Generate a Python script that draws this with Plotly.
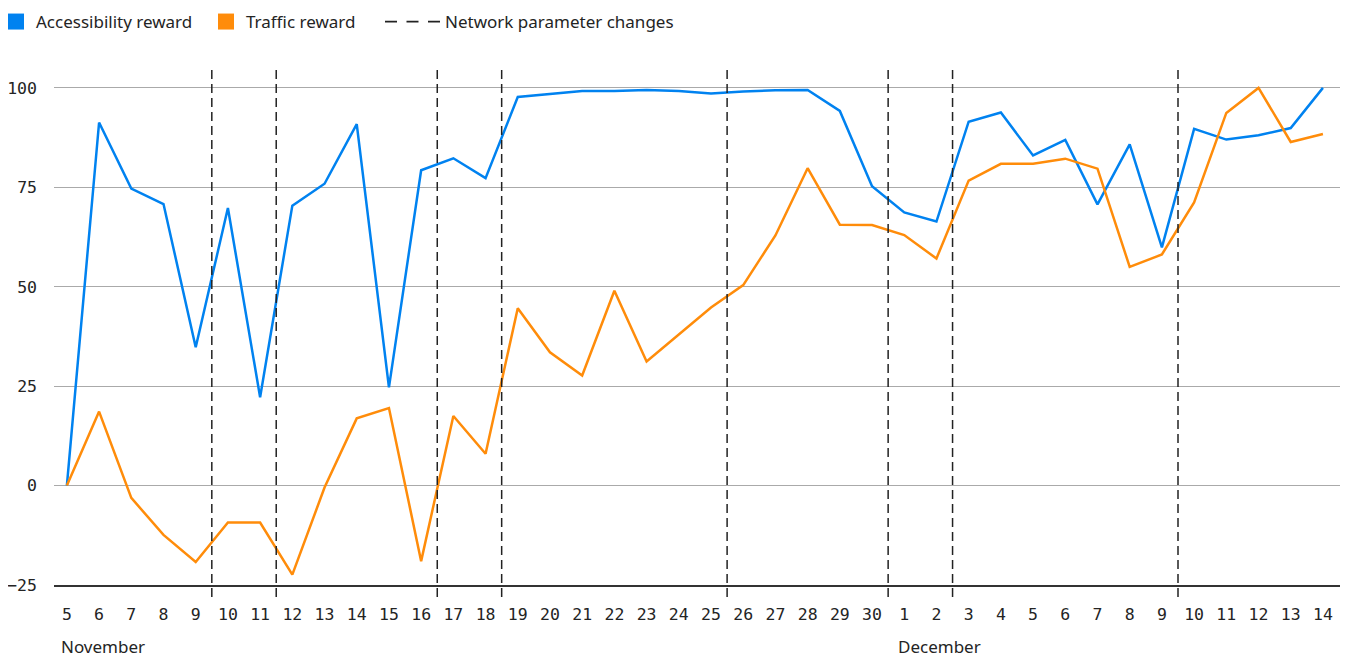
import plotly.graph_objects as go

nov_days = list(range(5, 31))
dec_days = list(range(1, 15))
tick_labels = [str(d) for d in nov_days + dec_days]
months = ["November", "December"]
month_start_index = [0, 26]

accessibility = [0, 91.3, 74.7, 70.8, 34.8, 69.8, 22.2, 70.4, 75.9, 90.9,
                 24.7, 79.3, 82.3, 77.3, 97.7, 98.4, 99.2, 99.2, 99.5, 99.2,
                 98.6, 99.1, 99.4, 99.5, 94.2, 75.3, 68.7, 66.4, 91.5, 93.8,
                 83.0, 86.9, 70.7, 85.8, 59.9, 89.7, 87.0, 88.1, 89.9, 100]
traffic = [0, 18.6, -3.1, -12.4, -19.2, -9.3, -9.3, -22.4, -0.5, 16.9,
           19.5, -19.0, 17.5, 8.0, 44.6, 33.5, 27.7, 49.0, 31.2, 38.0,
           44.8, 50.4, 62.9, 79.8, 65.6, 65.5, 63.0, 57.1, 76.7, 80.9,
           80.9, 82.2, 79.7, 55.0, 58.1, 71.2, 93.7, 100, 86.4, 88.4]
# parameter changes happen between these consecutive day indices
change_after_index = [4, 6, 11, 13, 20, 25, 27, 34]

BLUE = "#0082F0"
ORANGE = "#FF8C0A"
TXT = "#242424"
DASHC = "#222222"

# figure geometry (page has an 8px body margin)
W, H = 1344, 652
ML, MR, MT, MB = 46, 12, 62, 75
PW, PH = W - ML - MR, H - MT - MB


def px_x(screen_x):
    return (screen_x - 8 - ML) / PW


def px_y(screen_y):
    return 1 - (screen_y - 8 - MT) / PH


xs = list(range(len(tick_labels)))
fig = go.Figure()
fig.add_trace(go.Scatter(x=xs, y=accessibility, mode="lines",
                         line=dict(color=BLUE, width=2.5), showlegend=False))
fig.add_trace(go.Scatter(x=xs, y=traffic, mode="lines",
                         line=dict(color=ORANGE, width=2.5), showlegend=False))
# legend entries
fig.add_trace(go.Scatter(x=[None], y=[None], mode="markers", name="Accessibility reward",
                         marker=dict(symbol="square", size=18, color=BLUE), legend="legend"))
fig.add_trace(go.Scatter(x=[None], y=[None], mode="markers", name="Traffic reward",
                         marker=dict(symbol="square", size=18, color=ORANGE), legend="legend2"))
fig.add_trace(go.Scatter(x=[None], y=[None], mode="lines", name="Network parameter changes",
                         line=dict(color=DASHC, width=1.8, dash="12px,9.5px"), legend="legend3"))

for i in change_after_index:
    fig.add_shape(type="line", xref="x", yref="paper", x0=i + 0.5, x1=i + 0.5,
                  y0=px_y(597), y1=1, line=dict(color=DASHC, width=1.5, dash="9px,5px"))

for m, idx in zip(months, month_start_index):
    fig.add_annotation(text=m, xref="x", yref="paper", x=idx, y=px_y(659.5),
                       xanchor="left", yanchor="bottom", xshift=-8, showarrow=False,
                       font=dict(family="Noto Sans", size=17, color=TXT))

legend_font = dict(family="Noto Sans", size=17, color=TXT)
common = dict(orientation="h", xref="paper", yref="paper", xanchor="left", yanchor="middle",
              font=legend_font, bgcolor="rgba(0,0,0,0)", borderwidth=0)

fig.update_layout(
    width=W, height=H,
    margin=dict(l=ML, r=MR, t=MT, b=MB, autoexpand=False),
    plot_bgcolor="white", paper_bgcolor="white",
    showlegend=True,
    legend=dict(x=px_x(36 - 40), y=px_y(22), itemwidth=30, **common),
    legend2=dict(x=px_x(246 - 40), y=px_y(22), itemwidth=30, **common),
    legend3=dict(x=px_x(445 - 65), y=px_y(22), itemwidth=55, **common),
    font=dict(family="DejaVu Sans Mono", size=16, color=TXT),
)
fig.update_xaxes(range=[-0.4, 39.53], tickmode="array", tickvals=xs, ticktext=tick_labels,
                 showgrid=False, zeroline=False, showline=True, linecolor="#333",
                 linewidth=1.5, ticks="", ticklabelstandoff=13,
                 tickfont=dict(family="DejaVu Sans Mono", size=16.5, color=TXT))
fig.update_yaxes(range=[-25, 104.5], tickvals=[-25, 0, 25, 50, 75, 100],
                 showgrid=True, gridcolor="#aaaaaa", gridwidth=1.2, zeroline=False,
                 ticks="", ticklabelstandoff=16,
                 tickfont=dict(family="DejaVu Sans Mono", size=16.5, color=TXT))

fig.write_html("out.html")
